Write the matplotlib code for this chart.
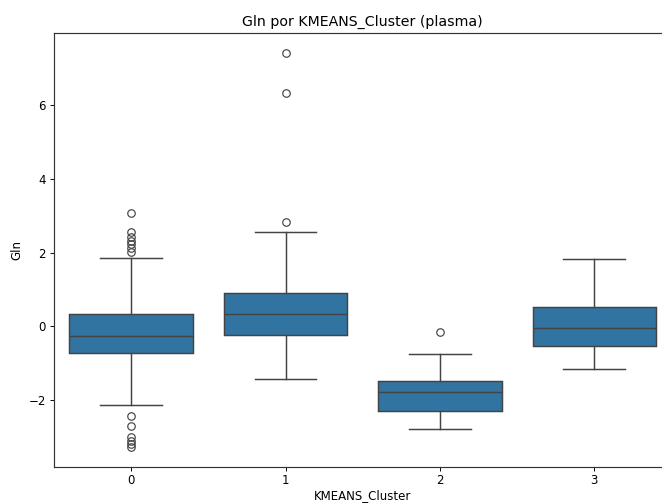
import matplotlib
matplotlib.use("Agg")
import matplotlib.pyplot as plt

clusters = [0, 1, 2, 3]
q1 = [-0.71, -0.22, -2.30, -0.54]
med = [-0.27, 0.34, -1.77, -0.04]
q3 = [0.33, 0.92, -1.48, 0.52]
whislo = [-2.12, -1.42, -2.79, -1.16]
whishi = [1.85, 2.55, -0.74, 1.84]
fliers = [
    [3.07, 2.55, 2.43, 2.32, 2.23, 2.14, 2.02, -2.42, -2.69, -3.01, -3.10, -3.19, -3.28],
    [7.41, 6.32, 2.83],
    [-0.15],
    [],
]

s = 0.85
plt.rcParams.update({
    'font.size': 10 * s,
    'axes.titlesize': 12 * s,
    'axes.labelsize': 10 * s,
    'xtick.labelsize': 10 * s,
    'ytick.labelsize': 10 * s,
    'xtick.major.size': 3.5 * s,
    'ytick.major.size': 3.5 * s,
    'xtick.major.pad': 3.0 * s,
    'ytick.major.pad': 3.5 * s,
    'xtick.major.width': 0.8 * s,
    'ytick.major.width': 0.8 * s,
    'axes.linewidth': 1.0 * s,
    'axes.labelpad': 4.0 * s,
    'axes.titlepad': 6.0 * s,
    'axes.edgecolor': '#333333',
})

stats = []
for i in range(len(clusters)):
    stats.append(dict(med=med[i], q1=q1[i], q3=q3[i], whislo=whislo[i],
                      whishi=whishi[i], fliers=fliers[i], label=str(clusters[i])))

fig = plt.figure(figsize=(6.62, 5.03), dpi=100)
ax = fig.add_axes([54 / 662, 1 - 466.5 / 503, (671.5 - 54) / 662, (466.5 - 33) / 503])

line = '#444444'
box_color = '#3274a1'
lw = 1.25 * s
ax.bxp(stats, positions=range(len(clusters)), widths=0.8, patch_artist=True,
       boxprops=dict(facecolor=box_color, edgecolor=line, linewidth=lw),
       medianprops=dict(color=line, linewidth=lw),
       whiskerprops=dict(color=line, linewidth=lw),
       capprops=dict(color=line, linewidth=lw),
       flierprops=dict(marker='o', markerfacecolor='none', markeredgecolor=line,
                       markersize=6 * 0.9, markeredgewidth=lw * 0.8),
       capwidths=0.4)

ax.set_xlim(-0.5, 3.5)
ax.set_ylim(-3.80, 7.96)
ax.set_yticks([-2, 0, 2, 4, 6])
ax.set_yticklabels(['\u22122', '0', '2', '4', '6'])
ax.set_xticks(range(len(clusters)))
ax.set_xticklabels([str(c) for c in clusters])
ax.set_xlabel('KMEANS_Cluster', labelpad=1.0)
ax.set_ylabel('Gln')
ax.set_title('Gln por KMEANS_Cluster (plasma)')

fig.savefig('out.png', dpi=100)
